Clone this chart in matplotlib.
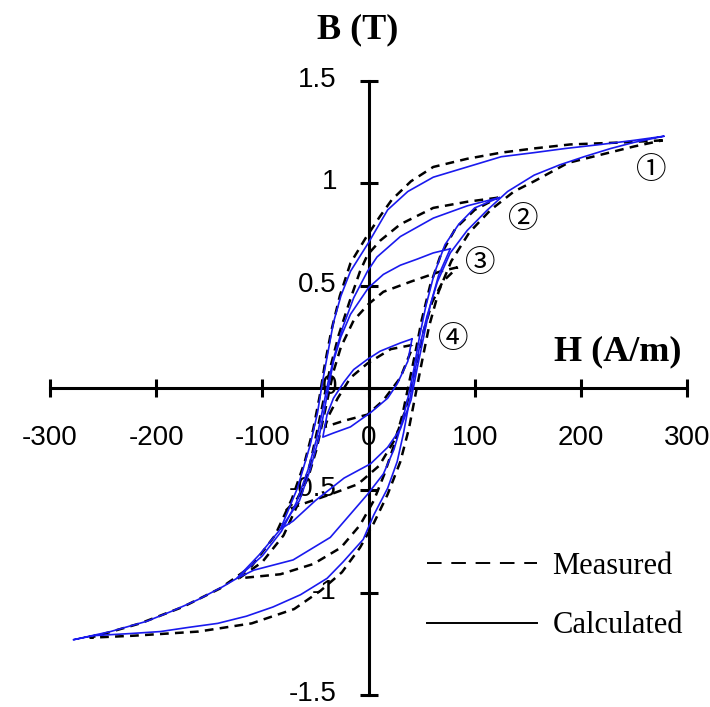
"""
Hysteresis loops: measured vs calculated B-H curves.
"""

import matplotlib
matplotlib.use('Agg')
import matplotlib.pyplot as plt
from matplotlib.lines import Line2D
from matplotlib.transforms import ScaledTranslation

# loop 1 (outer)
calc1_h = [278, 250, 219, 185, 156, 125, 93, 61, 37, 18, 0, -17, -26, -33, -38, -43, -48, -55, -67, -83, -102,
           -124, -137, -161, -185, -209, -243, -278,
           -259, -225, -196, -170, -142, -115, -90, -64, -39, -24, -5, 5, 18, 27, 33, 38, 43, 48, 55, 65, 77, 93,
           112, 131, 156, 180, 203, 228, 250, 278]
calc1_b = [1.23, 1.21, 1.19, 1.17, 1.15, 1.13, 1.08, 1.03, 0.96, 0.87, 0.71, 0.57, 0.45, 0.32, 0.18, 0.04, -0.12,
           -0.28, -0.49, -0.69, -0.81, -0.93, -0.97, -1.035, -1.09, -1.14, -1.19, -1.23,
           -1.21, -1.20, -1.19, -1.17, -1.15, -1.115, -1.07, -1.01, -0.93, -0.85, -0.74, -0.62, -0.49, -0.36,
           -0.22, -0.08, 0.06, 0.20, 0.35, 0.52, 0.66, 0.77, 0.87, 0.96, 1.04, 1.09, 1.13, 1.17, 1.20, 1.23]
meas1_h = [277, 240, 190, 155, 125, 93, 61, 40, 22, 11, -3, -17, -27, -35, -41, -46, -52, -60, -72, -88, -110,
           -140, -175, -215, -262,
           -220, -160, -110, -70, -45, -25, -8, 5, 18, 30, 38, 44, 50, 57, 66, 78, 95, 115, 137, 156, 188, 250,
           277]
meas1_b = [1.21, 1.20, 1.19, 1.17, 1.15, 1.12, 1.08, 1.01, 0.92, 0.84, 0.73, 0.61, 0.45, 0.28, 0.12, -0.04,
           -0.20, -0.36, -0.54, -0.72, -0.87, -0.98, -1.07, -1.15, -1.22,
           -1.21, -1.19, -1.15, -1.08, -0.99, -0.90, -0.78, -0.66, -0.52, -0.36, -0.20, -0.04, 0.12, 0.30, 0.47,
           0.62, 0.76, 0.87, 0.96, 1.01, 1.10, 1.18, 1.21]

# loop 2
calc2_h = [123, 93, 61, 30, 8, -1, -14, -24, -32, -38, -43, -49, -57, -68, -82, -100, -124,
           -108, -71, -36, -1, 14, 24, 32, 38, 43, 48, 54, 62, 72, 85, 100, 123]
calc2_b = [0.93, 0.89, 0.83, 0.74, 0.64, 0.57, 0.44, 0.30, 0.16, 0.03, -0.10, -0.25, -0.40, -0.56, -0.70, -0.82,
           -0.93,
           -0.89, -0.84, -0.73, -0.52, -0.42, -0.30, -0.16, -0.03, 0.10, 0.25, 0.40, 0.56, 0.70, 0.80, 0.88, 0.93]
meas2_h = [122, 93, 61, 30, 11, -1, -8, -18, -28, -36, -42, -48, -55, -65, -80, -100, -122,
           -83, -52, -26, -8, 5, 15, 24, 32, 38, 44, 50, 58, 68, 82, 100, 122]
meas2_b = [0.93, 0.91, 0.88, 0.80, 0.72, 0.65, 0.57, 0.42, 0.26, 0.10, -0.05, -0.20, -0.37, -0.55, -0.72, -0.85,
           -0.93,
           -0.91, -0.86, -0.78, -0.67, -0.55, -0.42, -0.28, -0.13, 0.02, 0.17, 0.33, 0.50, 0.65, 0.78, 0.87, 0.93]

# loop 3
calc3_h = [77, 61, 46, 30, 14, 0, -17, -26, -33, -37, -42, -47, -55, -65, -83,
           -71, -50, -23, 2, 18, 30, 40, 46, 52, 58, 66, 77]
calc3_b = [0.68, 0.66, 0.63, 0.60, 0.555, 0.49, 0.36, 0.25, 0.13, 0.02, -0.12, -0.25, -0.40, -0.55, -0.69,
           -0.65, -0.55, -0.44, -0.37, -0.29, -0.20, -0.06, 0.10, 0.25, 0.40, 0.55, 0.68]
meas3_h = [84, 68, 40, 14, 0, -14, -26, -33, -38, -43, -49, -57, -67, -78,
           -64, -36, -10, 10, 25, 34, 40, 46, 52, 60, 70, 84]
meas3_b = [0.59, 0.57, 0.52, 0.47, 0.41, 0.33, 0.20, 0.08, -0.04, -0.16, -0.30, -0.44, -0.54, -0.60,
           -0.57, -0.52, -0.47, -0.38, -0.25, -0.12, 0.00, 0.14, 0.28, 0.42, 0.52, 0.59]

# loop 4 (inner)
calc4_h = [41, 30, 11, -1, -14, -23, -33, -39, -43, -33, -17, 2, 18, 27, 37, 41]
calc4_b = [0.24, 0.22, 0.18, 0.14, 0.09, 0.03, -0.05, -0.13, -0.24, -0.22, -0.19, -0.12, -0.05, 0.02, 0.13, 0.24]
meas4_h = [41, 21, -1, -17, -29, -37, -41, -23, -1, 14, 30, 40, 41]
meas4_b = [0.21, 0.19, 0.12, 0.05, -0.05, -0.13, -0.19, -0.16, -0.13, -0.06, 0.05, 0.18, 0.21]

x_ticks = [-300, -200, -100, 0, 100, 200, 300]
y_ticks = [-1.5, -1, -0.5, 0, 0.5, 1, 1.5]
y_tick_labels = ['-1.5', '-1', '-0.5', '0', '0.5', '1', '1.5']

loop_names = ['①', '②', '③', '④']
loop_label_h = [266, 146, 105, 80]
loop_label_b = [1.064, 0.824, 0.608, 0.235]

measured = [(meas1_h, meas1_b), (meas2_h, meas2_b), (meas3_h, meas3_b), (meas4_h, meas4_b)]
calculated = [(calc1_h, calc1_b), (calc2_h, calc2_b), (calc3_h, calc3_b), (calc4_h, calc4_b)]

SANS = 'Liberation Sans'
SERIF = 'Liberation Serif'

fig = plt.figure(figsize=(7.1, 7.07), dpi=100)
ax = fig.add_axes([50 / 710, 12 / 707, 637 / 710, 614 / 707])

for h, b in measured:
    ax.plot(h, b, c='k', lw=1.8, ls=(0, (3.5, 2.5)), zorder=3)
for h, b in calculated:
    ax.plot(h, b, c='#1a1aee', lw=1.2, zorder=4)

ax.set_xlim(-300, 300)
ax.set_ylim(-1.5, 1.5)
for side in ['top', 'right']:
    ax.spines[side].set_visible(False)
for side in ['left', 'bottom']:
    ax.spines[side].set_position(('data', 0))
    ax.spines[side].set_linewidth(2.2)
    ax.spines[side].set_zorder(2)

ax.set_xticks(x_ticks)
ax.set_xticklabels([str(t) for t in x_ticks], fontsize=20, family=SANS)
ax.set_yticks(y_ticks)
ax.set_yticklabels(y_tick_labels, fontsize=20, family=SANS)
ax.tick_params(axis='both', direction='inout', length=13.5, width=2.2)
ax.tick_params(axis='x', pad=20)
ax.tick_params(axis='y', pad=16)
# y labels sit a little above their ticks
shift = ScaledTranslation(0, 4 / 100, fig.dpi_scale_trans)
for lab in ax.get_yticklabels():
    lab.set_transform(lab.get_transform() + shift)

for name, h, b in zip(loop_names, loop_label_h, loop_label_b):
    ax.text(h, b, name, fontsize=22, ha='center', va='center',
            family=['Noto Sans CJK JP', 'DejaVu Sans'])

fig.text(358 / 710, 1 - 30 / 707, 'B (T)', fontsize=26, fontweight='bold', family=SERIF,
         ha='center', va='center')
fig.text(618 / 710, 1 - 352 / 707, 'H (A/m)', fontsize=26, fontweight='bold', family=SERIF,
         ha='center', va='center')

handles = [Line2D([], [], c='k', lw=1.4, ls=(0, (7.5, 5))),
           Line2D([], [], c='k', lw=1.4)]
ax.legend(handles, ['Measured', 'Calculated'], loc='center left',
          bbox_to_anchor=(427 / 710, 1 - 596 / 707), bbox_transform=fig.transFigure,
          frameon=False, borderpad=0, borderaxespad=0, handlelength=3.6, handletextpad=0.5,
          labelspacing=1.0, prop={'family': SERIF, 'size': 22})

fig.savefig('out.png', dpi=100)
